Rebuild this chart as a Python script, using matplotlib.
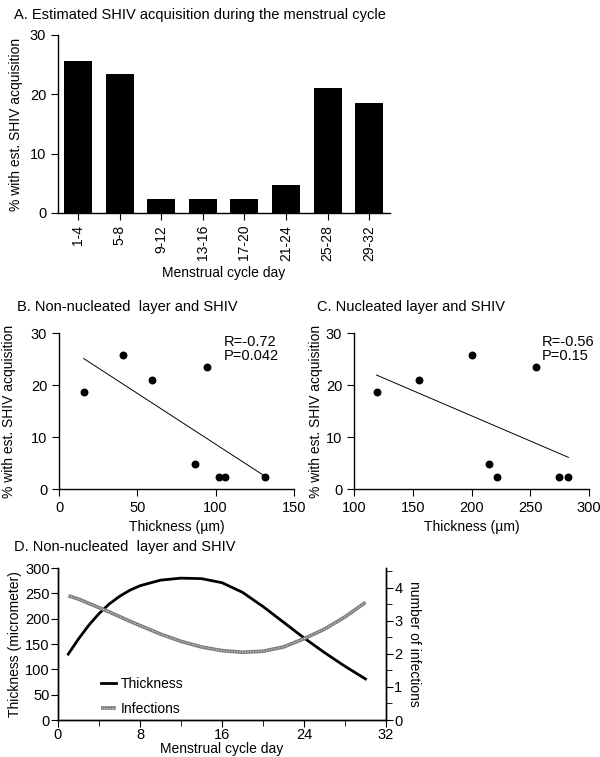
import numpy as np
import matplotlib
matplotlib.use('Agg')
import matplotlib.pyplot as plt
from matplotlib.ticker import MultipleLocator

plt.rcParams['font.family'] = ['Liberation Sans Narrow', 'Liberation Sans', 'DejaVu Sans']
plt.rcParams['axes.linewidth'] = 1.0
plt.rcParams['xtick.major.size'] = 5
plt.rcParams['ytick.major.size'] = 5
plt.rcParams['xtick.minor.size'] = 4
plt.rcParams['ytick.minor.size'] = 4

# A: acquisition by cycle window
day_groups = ['1-4', '5-8', '9-12', '13-16', '17-20', '21-24', '25-28', '29-32']
pct_shiv = [25.7, 23.4, 2.4, 2.4, 2.4, 4.8, 21.0, 18.6]

# B / C: layer thickness (um) per cycle window
thick_nonnuc = [40.6, 94.4, 102.4, 106.2, 131.6, 87.1, 59.2, 15.8]
thick_nuc = [200.3, 254.8, 221.3, 274.7, 282.5, 215.0, 155.4, 119.2]
stats_b = 'R=-0.72\nP=0.042'
stats_c = 'R=-0.56\nP=0.15'

# D: smoothed curves over the cycle
cycle_day = [1, 2, 3, 4, 5, 6, 7, 8, 10, 12, 14, 16, 18, 20, 22, 24, 26, 28, 30]
thickness_curve = [130, 160, 187, 210, 229, 244, 256, 265, 276, 280, 279, 271, 252, 224, 193, 162, 133, 106, 81]
infection_curve = [3.76, 3.66, 3.53, 3.40, 3.27, 3.13, 2.99, 2.86, 2.60, 2.38, 2.21, 2.10, 2.05, 2.08, 2.21, 2.46, 2.75, 3.12, 3.56]

W, H = 600, 757
fig = plt.figure(figsize=(W / 100, H / 100), dpi=100)


def box(x0, x1, y0, y1):
    # pixel box -> figure fraction
    return [x0 / W, 1 - y1 / H, (x1 - x0) / W, (y1 - y0) / H]


ylab = '% with est. SHIV acquisition'
FS = 10
TS = 10.5

# ---- A
axA = fig.add_axes(box(58, 390, 35, 213))
axA.bar(range(len(day_groups)), pct_shiv, width=0.67, color='black')
axA.set_xlim(-0.48, 7.5)
axA.set_ylim(0, 30)
axA.set_yticks([0, 10, 20, 30])
axA.set_xticks(range(len(day_groups)))
axA.set_xticklabels(day_groups, rotation=90, fontsize=FS)
axA.tick_params(axis='y', labelsize=TS)
axA.set_xlabel('Menstrual cycle day', fontsize=FS)
axA.set_ylabel(ylab, fontsize=FS)
axA.yaxis.set_label_coords(-0.105, 0.5)
axA.spines[['top', 'right']].set_visible(False)
fig.text(14 / W, 1 - 15 / H, 'A. Estimated SHIV acquisition during the menstrual cycle',
         fontsize=10.5, va='center')


# ---- B and C
def scatter_panel(ax, xs, ys, xlim, xticks, stats, stx, title, tx):
    ax.scatter(xs, ys, s=22, color='black', zorder=3)
    k, b = np.polyfit(xs, ys, 1)
    xx = np.array([min(xs), max(xs)])
    ax.plot(xx, k * xx + b, color='black', lw=0.7)
    ax.set_xlim(*xlim)
    ax.set_xticks(xticks)
    ax.set_ylim(0, 30)
    ax.set_yticks([0, 10, 20, 30])
    ax.tick_params(labelsize=TS)
    ax.set_xlabel('Thickness (µm)', fontsize=FS)
    ax.spines[['top', 'right']].set_visible(False)
    ax.text(stx, 0.99, stats, transform=ax.transAxes, va='top', fontsize=TS, linespacing=1.05)
    fig.text(tx / W, 1 - 307 / H, title, fontsize=10.5, va='center')


axB = fig.add_axes(box(59, 294, 333, 489))
scatter_panel(axB, thick_nonnuc, pct_shiv, (0, 150), [0, 50, 100, 150],
              stats_b, 0.70, 'B. Non-nucleated  layer and SHIV', 17)
axB.set_ylabel(ylab, fontsize=FS)
axB.yaxis.set_label_coords(-0.185, 0.5)

axC = fig.add_axes(box(354, 589, 333, 489))
scatter_panel(axC, thick_nuc, pct_shiv, (100, 300), [100, 150, 200, 250, 300],
              stats_c, 0.80, 'C. Nucleated layer and SHIV', 317)
axC.set_ylabel(ylab, fontsize=FS)
axC.yaxis.set_label_coords(-0.13, 0.5)

# ---- D
axD = fig.add_axes(box(58, 386, 568, 720))
axD2 = axD.twinx()
l1, = axD.plot(cycle_day, thickness_curve, color='black', lw=2)
g, = axD2.plot(cycle_day, infection_curve, color='#7d7d7d', lw=2.6, solid_capstyle='butt')
w, = axD2.plot(cycle_day, infection_curve, color='#d6d6d6', lw=0.8, linestyle=(0, (1, 1.4)))
axD.set_xlim(0, 32)
axD.set_ylim(0, 300)
axD.set_yticks(range(0, 301, 50))
axD.xaxis.set_major_locator(MultipleLocator(8))
axD.xaxis.set_minor_locator(MultipleLocator(4))
axD2.set_ylim(0, 4.6)
axD2.set_yticks([0, 1, 2, 3, 4])
axD2.yaxis.set_minor_locator(MultipleLocator(0.5))
for a in (axD, axD2):
    a.tick_params(labelsize=TS, pad=1)
    a.spines['top'].set_visible(False)
axD.tick_params(axis='x', pad=1)
axD.set_xlabel('Menstrual cycle day', fontsize=FS, labelpad=0)
axD.set_ylabel('Thickness (micrometer)', fontsize=FS)
axD.yaxis.set_label_coords(-0.11, 0.5)
axD2.set_ylabel('number of infections', fontsize=FS, rotation=270, va='center')
axD2.yaxis.set_label_coords(1.085, 0.5)
axD.legend([l1, (g, w)], ['Thickness', 'Infections'], loc='upper left',
           bbox_to_anchor=(0.11, 0.33), frameon=False, fontsize=FS,
           handlelength=1.1, handletextpad=0.3, labelspacing=0.8, borderpad=0)
fig.text(14 / W, 1 - 547 / H, 'D. Non-nucleated  layer and SHIV', fontsize=10.5, va='center')

fig.savefig('out.png', dpi=100)
